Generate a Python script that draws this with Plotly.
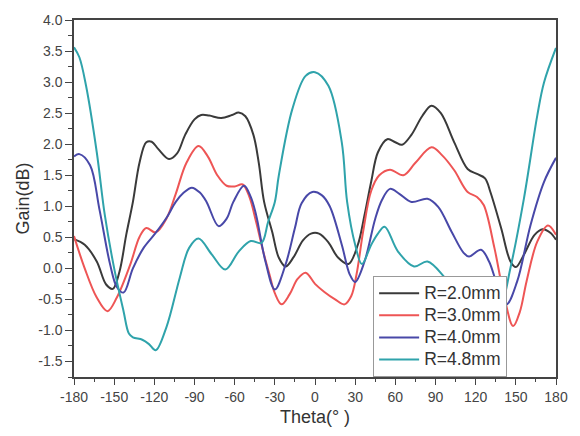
import plotly.graph_objects as go

# R = 2.0 mm
theta_r20 = [-180, -172, -163, -156, -151, -146, -141, -136, -131, -126, -122, -117, -109, -103, -97, -90, -85, -79, -70, -62, -57, -52, -46, -42, -38, -32, -27, -22, -16, -9, -3, 3, 10, 17, 25, 32, 37, 42, 47, 54, 60, 65, 72, 80, 87, 94, 104, 114, 121, 127, 131, 139, 146, 150, 156, 164, 170, 176, 180]
gain_r20 = [0.47, 0.38, 0.11, -0.26, -0.33, -0.05, 0.54, 1.07, 1.71, 2.03, 2.04, 1.92, 1.76, 1.85, 2.15, 2.4, 2.47, 2.46, 2.42, 2.47, 2.51, 2.45, 2.15, 1.7, 1.07, 0.59, 0.17, 0.03, 0.18, 0.45, 0.56, 0.56, 0.42, 0.18, 0.07, 0.38, 0.86, 1.4, 1.87, 2.08, 2.03, 1.99, 2.15, 2.45, 2.62, 2.5, 2.03, 1.6, 1.52, 1.45, 1.23, 0.65, 0.11, 0.02, 0.22, 0.54, 0.63, 0.57, 0.46]

# R = 3.0 mm
theta_r30 = [-180, -172, -163, -155, -148, -138, -131, -126, -119, -111, -104, -96, -87, -80, -73, -66, -60, -54, -49, -44, -39, -34, -30, -25, -19, -13, -7, 0, 7, 15, 22, 27, 31, 36, 42, 48, 56, 66, 75, 87, 95, 104, 114, 121, 126, 134, 141, 148, 153, 158, 166, 174, 180]
gain_r30 = [0.52, 0.0, -0.47, -0.69, -0.47, 0.06, 0.51, 0.65, 0.58, 0.8, 1.2, 1.7, 1.97, 1.8, 1.5, 1.33, 1.32, 1.35, 1.15, 0.75, 0.3, -0.1, -0.4, -0.58, -0.42, -0.17, -0.07, -0.25, -0.38, -0.5, -0.58, -0.45, -0.1, 0.6, 1.25, 1.5, 1.59, 1.5, 1.7, 1.95, 1.82, 1.58, 1.23, 1.15, 1.02, 0.33, -0.42, -0.93, -0.7, -0.21, 0.43, 0.69, 0.54]

# R = 4.0 mm
theta_r40 = [-180, -176, -168, -161, -153, -148, -143, -136, -128, -119, -111, -104, -98, -92, -86, -81, -72, -66, -61, -53, -48, -44, -37, -30, -22, -15, -10, -2, 5, 11, 20, 26, 30, 37, 45, 50, 56, 63, 72, 84, 92, 102, 111, 115, 124, 130, 136, 143, 151, 161, 171, 180]
gain_r40 = [1.8, 1.84, 1.66, 0.95, 0.06, -0.3, -0.39, 0.0, 0.33, 0.57, 0.81, 1.07, 1.22, 1.3, 1.22, 1.07, 0.68, 0.8, 1.07, 1.33, 1.15, 0.86, 0.11, -0.34, 0.06, 0.65, 1.05, 1.23, 1.18, 1.0, 0.38, -0.1, -0.22, 0.11, 0.8, 1.1, 1.28, 1.2, 1.07, 1.12, 0.99, 0.59, 0.25, 0.19, 0.3, 0.11, -0.26, -0.58, -0.21, 0.7, 1.39, 1.78]

# R = 4.8 mm
theta_r48 = [-180, -176, -171, -163, -157, -150, -143, -139, -136, -129, -124, -119, -111, -101, -94, -87, -77, -67, -57, -48, -40, -35, -30, -27, -17, -7, 0, 10, 20, 24, 30, 35, 42, 47, 52, 62, 74, 84, 97, 108, 120, 130, 138, 146, 156, 166, 171, 180]
gain_r48 = [3.56, 3.4, 2.94, 1.87, 0.86, 0.0, -0.69, -1.05, -1.11, -1.15, -1.22, -1.32, -0.95, -0.15, 0.33, 0.48, 0.22, -0.02, 0.27, 0.44, 0.41, 0.75, 1.07, 1.5, 2.56, 3.1, 3.16, 2.94, 2.03, 1.07, 0.38, 0.07, 0.38, 0.56, 0.67, 0.27, 0.03, 0.11, -0.15, -0.45, -0.7, -0.8, -0.66, 0.01, 1.12, 2.46, 2.99, 3.55]

series_names = ["R=2.0mm", "R=3.0mm", "R=4.0mm", "R=4.8mm"]
series_colors = ["#3a3a3a", "#ee5555", "#4848a8", "#2fa3ab"]
series_x = [theta_r20, theta_r30, theta_r40, theta_r48]
series_y = [gain_r20, gain_r30, gain_r40, gain_r48]

x_ticks = [-180, -150, -120, -90, -60, -30, 0, 30, 60, 90, 120, 150, 180]
y_ticks = [-1.5, -1.0, -0.5, 0.0, 0.5, 1.0, 1.5, 2.0, 2.5, 3.0, 3.5, 4.0]
x_ticktext = [str(v) for v in x_ticks]
y_ticktext = ["%.1f" % v for v in y_ticks]

fig = go.Figure()
for name, xs, ys, col in zip(series_names, series_x, series_y, series_colors):
    fig.add_trace(go.Scatter(
        x=xs, y=ys, mode="lines",
        name="<span style='font-size:17.5px'>" + name + "</span>",
        line=dict(color=col, width=2, shape="spline", smoothing=1.0)))

font_family = "Liberation Sans, Arial, sans-serif"
axis_common = dict(
    showgrid=False, zeroline=False, showline=True, linecolor="#444", linewidth=1.5,
    mirror=True, ticks="outside", tickcolor="#444", tickwidth=1.3,
    tickfont=dict(family=font_family, size=14, color="#444"),
)

fig.update_layout(
    width=580, height=436,
    margin=dict(l=74, r=21, t=17, b=59),
    paper_bgcolor="white", plot_bgcolor="white",
    font=dict(family=font_family, color="#333"),
    xaxis=dict(range=[-180, 180], tickvals=x_ticks, ticktext=x_ticktext, ticklen=6,
               minor=dict(dtick=15, tick0=-180, ticks="outside", ticklen=3, tickcolor="#444"),
               title=dict(text="Theta(° )", font=dict(size=18, color="#333"), standoff=7),
               **axis_common),
    yaxis=dict(range=[-1.75, 4.0], tickvals=y_ticks, ticktext=y_ticktext, ticklen=7,
               minor=dict(dtick=0.25, tick0=0, ticks="outside", ticklen=4, tickcolor="#444"),
               title=dict(text="Gain(dB)", font=dict(size=18, color="#333"), standoff=4),
               **axis_common),
    legend=dict(x=0.6206, y=0.2825, xanchor="left", yanchor="top",
                bgcolor="white", bordercolor="#999", borderwidth=1,
                font=dict(family=font_family, size=14.7, color="#333"),
                itemwidth=40, tracegroupgap=0),
    showlegend=True,
)

fig.write_html("out.html")
